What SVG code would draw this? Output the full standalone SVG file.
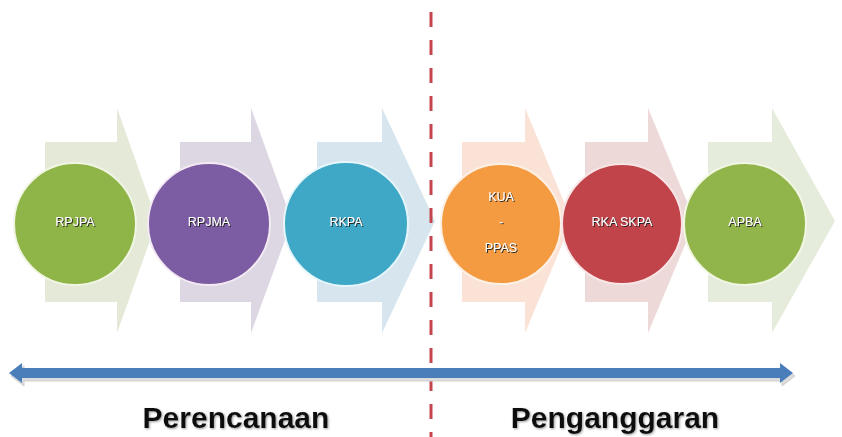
<svg xmlns="http://www.w3.org/2000/svg" width="842" height="437" viewBox="0 0 842 437">
  <defs>
    <filter id="ts" x="-20%" y="-40%" width="140%" height="180%">
      <feDropShadow dx="1" dy="1" stdDeviation="0.5" flood-color="#222" flood-opacity="0.95"/>
    </filter>
    <filter id="ls" x="-5%" y="-20%" width="110%" height="140%">
      <feDropShadow dx="1" dy="1" stdDeviation="0.8" flood-color="#888" flood-opacity="0.8"/>
    </filter>
    <style>
      .lbl { font-family: "Liberation Sans", Arial, sans-serif; font-size: 12.5px; fill: #ffffff; text-anchor: middle; dominant-baseline: central; filter: url(#ts); }
      .big { font-family: "Liberation Sans", Arial, sans-serif; font-size: 30px; font-weight: bold; fill: #111111; text-anchor: middle; filter: url(#ls); }
      .circ { stroke-width: 2; }
    </style>
  </defs>
  <rect width="842" height="437" fill="#ffffff"/>

  <g id="node-rpjpa">
    <path d="M45,142 H117 V108 L157,221 L117,333 V302 H45 Z" fill="#e4e9d8"/>
    <circle class="circ" cx="75" cy="224" r="61" fill="#8fb447" stroke="#f1f6e4"/>
    <text class="lbl" x="75" y="222">RPJPA</text>
  </g>
  <g id="node-rpjma">
    <path d="M180,142 H251 V108 L292,221 L251,333 V302 H180 Z" fill="#ddd7e4"/>
    <circle class="circ" cx="209" cy="224" r="61" fill="#7c5ca3" stroke="#f3eaf3"/>
    <text class="lbl" x="209" y="222">RPJMA</text>
  </g>
  <g id="node-rkpa">
    <path d="M317,142 H382 V108 L435,221 L382,333 V302 H317 Z" fill="#d7e6ee"/>
    <circle class="circ" cx="346" cy="224" r="62" fill="#3fa8c6" stroke="#e6f6fb"/>
    <text class="lbl" x="346" y="222">RKPA</text>
  </g>
  <g id="node-kua-ppas">
    <path d="M462,142 H525 V108 L572,221 L525,333 V302 H462 Z" fill="#fbe2d6"/>
    <circle class="circ" cx="501" cy="224" r="60" fill="#f49a40" stroke="#fdf0e4"/>
    <text class="lbl" x="501" y="197">KUA</text>
    <text class="lbl" x="501" y="222">-</text>
    <text class="lbl" x="501" y="248">PPAS</text>
  </g>
  <g id="node-rka-skpa">
    <path d="M585,142 H648 V108 L695,221 L648,333 V302 H585 Z" fill="#eed9d9"/>
    <circle class="circ" cx="622" cy="224" r="60" fill="#c1444a" stroke="#f8e6e6"/>
    <text class="lbl" x="622" y="222">RKA SKPA</text>
  </g>
  <g id="node-apba">
    <path d="M708,142 H772 V108 L835,221 L772,333 V302 H708 Z" fill="#e6ecdb"/>
    <circle class="circ" cx="745" cy="224" r="61" fill="#92b54b" stroke="#f1f7e3"/>
    <text class="lbl" x="745" y="222">APBA</text>
  </g>

  <g id="connectors">
    <line x1="431" y1="12" x2="431" y2="437" stroke="#c4454d" stroke-width="3" stroke-dasharray="15 13"/>
    <path d="M11,376 L24,366 V371 H782 V366 L795,376 L782,386 V381 H24 V386 Z" fill="#dcdcdc" stroke="#cfcfcf" stroke-width="1"/>
    <path d="M9,373 L22,363 V368 H780 V363 L793,373 L780,383 V378 H22 V383 Z" fill="#4a7ebb"/>
  </g>

  <g id="labels">
    <text class="big" x="236" y="428">Perencanaan</text>
    <text class="big" x="615" y="428">Penganggaran</text>
  </g>
</svg>
